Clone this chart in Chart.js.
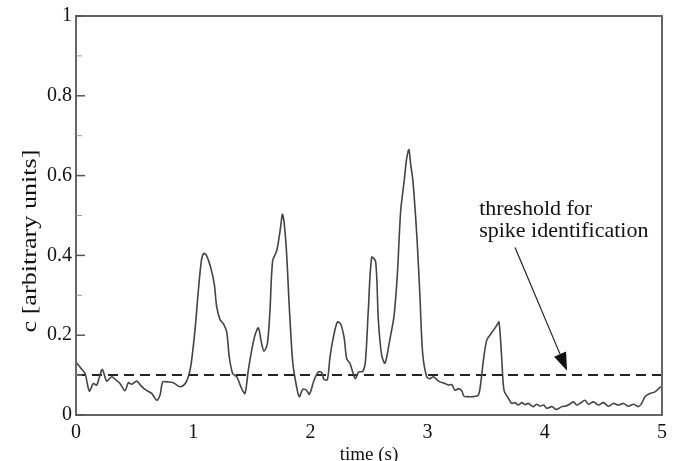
<!DOCTYPE html>
<html>
<head>
<meta charset="utf-8">
<script src="https://cdn.jsdelivr.net/npm/chart.js@4/dist/chart.umd.min.js"></script>
<style>
html,body{margin:0;padding:0;background:#fff;}
#wrap{width:679px;height:461px;position:relative;}
</style>
</head>
<body>
<div id="wrap"><canvas id="c" width="679" height="461"></canvas></div>
<script>
// ---- data ----
const TIME = [0.00,0.04,0.077,0.114,0.148,0.176,0.20,0.225,0.262,0.305,0.34,0.375,0.418,0.447,0.475,0.518,0.55,0.589,0.646,0.688,0.717,0.74,0.78,0.83,0.887,0.93,0.958,0.981,1.015,1.044,1.072,1.092,1.115,1.149,1.18,1.20,1.229,1.257,1.286,1.308,1.337,1.371,1.414,1.442,1.47,1.499,1.527,1.556,1.584,1.604,1.633,1.655,1.678,1.712,1.741,1.763,1.792,1.82,1.849,1.877,1.905,1.934,1.963,1.991,2.031,2.068,2.097,2.116,2.145,2.167,2.196,2.23,2.258,2.287,2.31,2.338,2.361,2.383,2.412,2.446,2.469,2.494,2.523,2.557,2.58,2.608,2.637,2.679,2.713,2.742,2.77,2.80,2.82,2.84,2.855,2.875,2.91,2.935,2.958,2.992,3.02,3.049,3.08,3.106,3.149,3.177,3.206,3.234,3.262,3.291,3.311,3.348,3.39,3.433,3.453,3.476,3.504,3.532,3.561,3.589,3.609,3.632,3.652,3.689,3.718,3.746,3.774,3.803,3.831,3.86,3.902,3.93,3.959,3.99,4.016,4.059,4.101,4.144,4.17,4.201,4.244,4.272,4.30,4.343,4.372,4.414,4.457,4.50,4.542,4.585,4.628,4.671,4.713,4.756,4.798,4.827,4.855,4.898,4.94,4.983,5.0];
const CONC = [0.132,0.118,0.104,0.060,0.079,0.075,0.095,0.114,0.085,0.096,0.088,0.079,0.061,0.081,0.077,0.085,0.075,0.064,0.054,0.037,0.050,0.083,0.083,0.081,0.071,0.078,0.096,0.125,0.212,0.312,0.391,0.405,0.399,0.370,0.328,0.272,0.239,0.229,0.208,0.145,0.104,0.096,0.066,0.054,0.112,0.162,0.200,0.218,0.179,0.160,0.179,0.262,0.387,0.411,0.461,0.503,0.428,0.270,0.133,0.079,0.046,0.064,0.063,0.052,0.087,0.108,0.106,0.089,0.089,0.145,0.195,0.233,0.228,0.195,0.141,0.129,0.108,0.091,0.108,0.109,0.133,0.262,0.395,0.384,0.237,0.150,0.130,0.191,0.247,0.353,0.510,0.586,0.640,0.665,0.630,0.586,0.440,0.295,0.154,0.096,0.091,0.096,0.088,0.083,0.079,0.075,0.076,0.062,0.066,0.061,0.047,0.046,0.046,0.050,0.079,0.137,0.187,0.200,0.212,0.224,0.233,0.145,0.062,0.042,0.029,0.031,0.025,0.031,0.026,0.029,0.021,0.027,0.022,0.025,0.017,0.021,0.014,0.021,0.022,0.025,0.033,0.025,0.029,0.037,0.027,0.033,0.025,0.031,0.022,0.029,0.025,0.029,0.022,0.027,0.021,0.029,0.046,0.054,0.058,0.069,0.072];
const THRESHOLD_T = [0, 5];
const THRESHOLD_C = [0.1, 0.1];
const X_TICKS = [0,1,2,3,4,5];
const Y_TICKS = [0,0.2,0.4,0.6,0.8,1];
const Y_MINOR = [0.1,0.3,0.5,0.7,0.9];
const X_TITLE = 'time (s)';
const Y_TITLE = 'c [arbitrary units]';
const NOTE_LINES = ['threshold for','spike identification'];
const NOTE_POS = {t:3.44, c:0.502, dc:0.055};
const ARROW_FROM = {t:3.746, c:0.42};
const ARROW_TO = {t:4.19, c:0.111};

const SERIF = '"Liberation Serif", "DejaVu Serif", serif';

const deco = {
  id:'deco',
  afterDraw(chart){
    const {ctx, chartArea:a, scales:{x,y}} = chart;
    ctx.save();
    // frame
    ctx.strokeStyle = '#666';
    ctx.lineWidth = 2;
    ctx.strokeRect(a.left, a.top, a.right-a.left, a.bottom-a.top);
    // inward ticks on the y axis
    ctx.lineWidth = 1.5;
    ctx.strokeStyle = '#555';
    Y_TICKS.forEach(v=>{const py=y.getPixelForValue(v); ctx.beginPath(); ctx.moveTo(a.left, py); ctx.lineTo(a.left+9, py); ctx.stroke();});
    ctx.strokeStyle = '#999';
    ctx.lineWidth = 1;
    Y_MINOR.forEach(v=>{const py=y.getPixelForValue(v); ctx.beginPath(); ctx.moveTo(a.left, py); ctx.lineTo(a.left+6, py); ctx.stroke();});
    // titles
    ctx.fillStyle = '#111';
    ctx.font = '19px ' + SERIF;
    ctx.textAlign = 'center';
    ctx.textBaseline = 'alphabetic';
    ctx.fillText(X_TITLE, (a.left+a.right)/2, 460);
    ctx.save();
    ctx.translate(36, 241);
    ctx.rotate(-Math.PI/2);
    ctx.font = '20px ' + SERIF;
    const w = ctx.measureText(Y_TITLE).width;
    ctx.scale(183/w, 1);
    ctx.fillText(Y_TITLE, 0, 0);
    ctx.restore();
    // annotation text
    ctx.textAlign = 'left';
    ctx.font = '22px ' + SERIF;
    NOTE_LINES.forEach((s,i)=>{
      ctx.fillText(s, x.getPixelForValue(NOTE_POS.t), y.getPixelForValue(NOTE_POS.c - i*NOTE_POS.dc));
    });
    // arrow
    const x0=x.getPixelForValue(ARROW_FROM.t), y0=y.getPixelForValue(ARROW_FROM.c);
    const x1=x.getPixelForValue(ARROW_TO.t), y1=y.getPixelForValue(ARROW_TO.c);
    const ang = Math.atan2(y1-y0, x1-x0);
    const L=18, W=6.5;
    const bx = x1 - L*Math.cos(ang), by = y1 - L*Math.sin(ang);
    ctx.strokeStyle = '#222'; ctx.lineWidth = 1.2;
    ctx.beginPath(); ctx.moveTo(x0,y0); ctx.lineTo(bx,by); ctx.stroke();
    ctx.fillStyle = '#111';
    ctx.beginPath();
    ctx.moveTo(x1,y1);
    ctx.lineTo(bx + W*Math.sin(ang), by - W*Math.cos(ang));
    ctx.lineTo(bx - W*Math.sin(ang), by + W*Math.cos(ang));
    ctx.closePath(); ctx.fill();
    ctx.restore();
  }
};

new Chart(document.getElementById('c'), {
  type:'line',
  data:{
    datasets:[
      {data: TIME.map((t,i)=>({x:t, y:CONC[i]})), borderColor:'#444', borderWidth:1.6, pointRadius:0, tension:0.3, fill:false},
      {data: THRESHOLD_T.map((t,i)=>({x:t, y:THRESHOLD_C[i]})), borderColor:'#222', borderWidth:2, borderDash:[10,6], pointRadius:0, fill:false}
    ]
  },
  options:{
    responsive:false,
    animation:false,
    events:[],
    layout:{padding:{top:14, right:17, left:0, bottom:0}},
    plugins:{legend:{display:false}, tooltip:{enabled:false}},
    scales:{
      x:{type:'linear', min:0, max:5,
         afterFit(s){s.height=46;},
         afterBuildTicks(s){s.ticks = X_TICKS.map(v=>({value:v}));},
         grid:{display:false, drawTicks:false},
         border:{display:false},
         ticks:{padding:6, color:'#111', font:{family:SERIF, size:20}, maxRotation:0, autoSkip:false}},
      y:{type:'linear', min:0, max:1,
         afterFit(s){s.width=76;},
         afterBuildTicks(s){s.ticks = Y_TICKS.map(v=>({value:v}));},
         grid:{display:false, drawTicks:false},
         border:{display:false},
         ticks:{padding:4, color:'#111', font:{family:SERIF, size:20}, autoSkip:false, callback:v=>String(+v.toFixed(1))}}
    }
  },
  plugins:[deco]
});
</script>
</body>
</html>
